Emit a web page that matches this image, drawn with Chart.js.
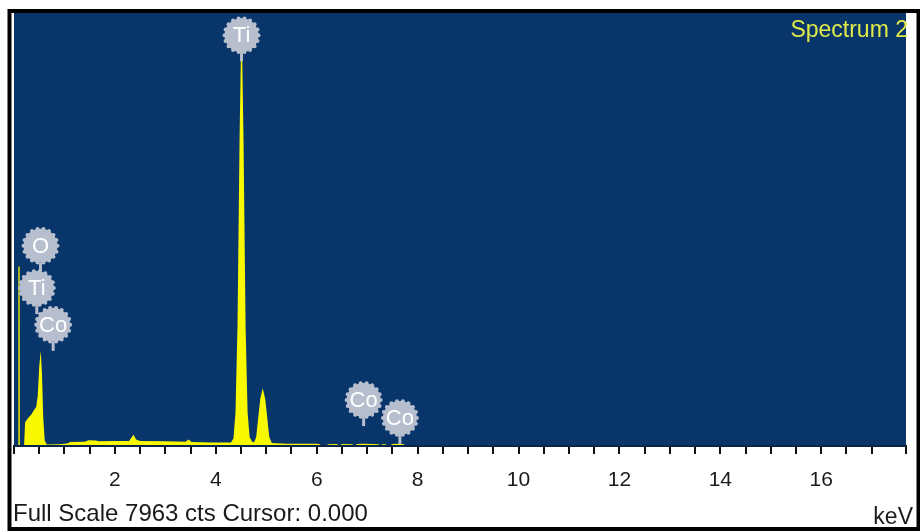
<!DOCTYPE html>
<html>
<head>
<meta charset="utf-8">
<script src="https://cdn.jsdelivr.net/npm/chart.js@4.4.1/dist/chart.umd.min.js"></script>
<style>
  html, body { margin: 0; padding: 0; background: #fff; }
  canvas { display: block; }
</style>
</head>
<body>
<canvas id="chart" width="920" height="531"></canvas>
<script>
// spectrum: energy (keV) and counts
const energy = [0.00, 0.08, 0.085, 0.088, 0.112, 0.115, 0.20, 0.22, 0.28, 0.34, 0.40, 0.44, 0.47, 0.50, 0.53, 0.555, 0.58, 0.61, 0.65,
  0.90, 1.05, 1.12, 1.40, 1.48, 1.62, 1.68, 2.00, 2.28, 2.33, 2.37, 2.42, 2.50, 3.00, 3.40, 3.46, 3.52, 3.90,
  4.30, 4.35, 4.39, 4.43, 4.47, 4.51, 4.55, 4.59, 4.63, 4.67, 4.72, 4.76, 4.80, 4.84, 4.88, 4.93, 4.98, 5.02, 5.06, 5.11, 5.40,
  6.00, 6.05, 6.08, 6.20, 6.23, 6.40, 6.43, 6.47, 6.50, 6.70, 6.73, 6.77, 6.80, 6.93, 7.10, 7.22, 7.25, 7.28,
  7.30, 7.36, 7.39, 7.47, 7.50, 7.65, 7.72, 7.75, 17.68];
const counts = [0, 0, 0, 3300, 3300, 0, 0, 420, 500, 560, 650, 700, 900, 1450, 1740, 1300, 500, 80, 10,
  15, 30, 55, 60, 90, 85, 70, 72, 75, 140, 190, 100, 75, 70, 60, 100, 55, 45,
  45, 120, 600, 2200, 5600, 7963, 5600, 2200, 600, 150, 60, 50, 150, 500, 850, 1050, 850, 500, 150, 35, 25,
  25, 20, 0, 0, 15, 18, 0, 0, 18, 15, 0, 0, 18, 25, 18, 15, 0, 0,
  15, 15, 0, 0, 20, 25, 15, 0, 0];

// element markers: name, line energy, height of the badge (counts)
const markerNames = ['Ti', 'O', 'Ti', 'Co', 'Co', 'Co'];
const markerKeV = [4.51, 0.525, 0.452, 0.776, 6.93, 7.649];
const markerCounts = [7570, 3680, 2900, 2220, 830, 500];

const xTickStep = 0.5;
const fullScale = 7963;
const xMax = 17.68;

const points = energy.map((e, i) => ({ x: e, y: counts[i] }));

const FONT = '"Liberation Sans", Arial, sans-serif';

function drawBadge(ctx, x, y, name) {
  const r = 17;
  ctx.save();
  ctx.fillStyle = '#b7bfcf';
  ctx.strokeStyle = '#b7bfcf';
  // stem pointing to the line
  ctx.lineWidth = 3;
  ctx.beginPath();
  ctx.moveTo(x, y + r);
  ctx.lineTo(x, y + r + 9);
  ctx.stroke();
  // scalloped rim
  for (let i = 0; i < 18; i++) {
    const a = i / 18 * Math.PI * 2;
    ctx.beginPath();
    ctx.arc(x + Math.cos(a) * r, y + Math.sin(a) * r, 2, 0, Math.PI * 2);
    ctx.fill();
  }
  ctx.beginPath();
  ctx.arc(x, y, r, 0, Math.PI * 2);
  ctx.fill();
  ctx.fillStyle = '#ffffff';
  ctx.font = '22px ' + FONT;
  ctx.textAlign = 'center';
  ctx.textBaseline = 'middle';
  ctx.fillText(name, x, y + 1);
  ctx.restore();
}

const spectrumPlugin = {
  id: 'spectrumFrame',
  beforeDraw(chart) {
    const { ctx, chartArea: a } = chart;
    ctx.save();
    ctx.fillStyle = '#ffffff';
    ctx.fillRect(0, 0, chart.width, chart.height);
    ctx.fillStyle = '#08356a';
    ctx.fillRect(a.left, a.top, a.right - a.left, a.bottom - a.top);
    ctx.restore();
  },
  afterDatasetsDraw(chart) {
    const { ctx, scales } = chart;
    markerNames.forEach((n, i) => {
      drawBadge(ctx, scales.x.getPixelForValue(markerKeV[i]), scales.y.getPixelForValue(markerCounts[i]), n);
    });
  },
  afterDraw(chart) {
    const { ctx, chartArea: a } = chart;
    ctx.save();
    ctx.strokeStyle = '#0a2547';
    ctx.lineWidth = 2;
    ctx.beginPath();
    ctx.moveTo(a.left, a.bottom + 1);
    ctx.lineTo(a.right, a.bottom + 1);
    ctx.stroke();

    ctx.font = '23px ' + FONT;
    ctx.fillStyle = '#e0ea48';
    ctx.textAlign = 'right';
    ctx.textBaseline = 'alphabetic';
    ctx.fillText('Spectrum 2', 908, 37);

    ctx.fillStyle = '#1a1a1a';
    ctx.font = '24px ' + FONT;
    ctx.textAlign = 'left';
    ctx.fillText('Full Scale ' + fullScale + ' cts Cursor: 0.000', 13, 521);
    ctx.textAlign = 'right';
    ctx.font = '23px ' + FONT;
    ctx.fillText('keV', 913, 524);

    ctx.strokeStyle = '#000';
    ctx.lineWidth = 4;
    ctx.strokeRect(9.5, 11, 909, 518);
    ctx.restore();
  }
};

new Chart(document.getElementById('chart').getContext('2d'), {
  type: 'line',
  data: {
    datasets: [{
      data: points,
      borderWidth: 0,
      borderColor: '#f8f800',
      backgroundColor: '#f8f800',
      fill: 'origin',
      pointRadius: 0,
      tension: 0
    }]
  },
  options: {
    responsive: false,
    animation: false,
    layout: { padding: { left: 11, right: 4, top: 12, bottom: 36 } },
    plugins: { legend: { display: false }, tooltip: { enabled: false } },
    scales: {
      x: {
        type: 'linear',
        min: 0,
        max: xMax,
        afterFit: s => { s.height = 50; },
        border: { display: false },
        grid: { drawOnChartArea: false, drawTicks: true, tickLength: 9, color: '#111', lineWidth: 2 },
        ticks: {
          stepSize: xTickStep,
          autoSkip: false,
          maxRotation: 0,
          padding: 14,
          color: '#1a1a1a',
          font: { family: FONT, size: 21 },
          callback: v => (v > 0 && Math.abs(v % 2) < 1e-6) ? String(v) : ''
        }
      },
      y: {
        display: false,
        min: 0,
        max: 8000
      }
    }
  },
  plugins: [spectrumPlugin]
});
</script>
</body>
</html>
